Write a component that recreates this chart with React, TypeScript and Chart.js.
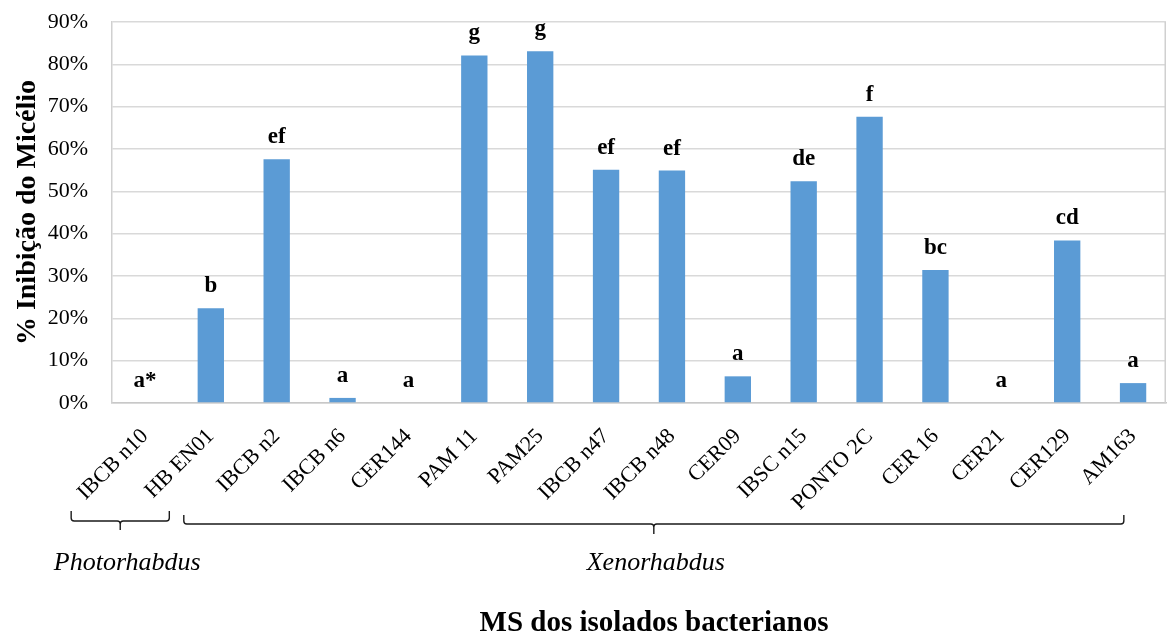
import React, { useEffect, useRef } from "react";
import { Chart, registerables } from "chart.js";

Chart.register(...registerables);

// Isolates tested, mycelial inhibition (%) and Tukey group letters
const isolates = [
  "IBCB n10", "HB EN01", "IBCB n2", "IBCB n6", "CER144", "PAM 11", "PAM25", "IBCB n47",
  "IBCB n48", "CER09", "IBSC n15", "PONTO 2C", "CER 16", "CER21", "CER129", "AM163",
];
const inhibition = [0, 22.4, 57.6, 1.2, 0, 82.1, 83.1, 55.1, 54.9, 6.3, 52.4, 67.6, 31.4, 0, 38.4, 4.7];
const letters = ["a*", "b", "ef", "a", "a", "g", "g", "ef", "ef", "a", "de", "f", "bc", "a", "cd", "a"];

const yMax = 90;
const yStep = 10;

// Genus groups, as ranges of isolate indices
const genera = ["Photorhabdus", "Xenorhabdus"];
const genusFirst = [0, 2];
const genusLast = [1, 15];

const SERIF = "'Liberation Serif', 'Times New Roman', serif";

// Brace extents relative to the first/last category centre, in category widths
const braceStyle = [
  { left: -1.12, right: -0.63, top: 511, line: 521, tip: 530, textDx: 7 },
  { left: -1.41, right: -0.14, top: 515, line: 524, tip: 534, textDx: 2 },
];

const overlay = {
  id: "overlay",
  afterDatasetsDraw(chart: any) {
    const ctx: CanvasRenderingContext2D = chart.ctx;
    const area = chart.chartArea;
    const xs = chart.scales.x;
    const meta = chart.getDatasetMeta(0);
    const catW = xs.getPixelForValue(1) - xs.getPixelForValue(0);

    ctx.save();
    // right edge of the plot box
    ctx.strokeStyle = "#d0d0d0";
    ctx.lineWidth = 1.5;
    ctx.beginPath();
    ctx.moveTo(area.right - 0.75, area.top);
    ctx.lineTo(area.right - 0.75, area.bottom);
    ctx.stroke();

    // group letters above each bar
    ctx.fillStyle = "#000";
    ctx.font = `bold 23px ${SERIF}`;
    ctx.textAlign = "center";
    ctx.textBaseline = "alphabetic";
    meta.data.forEach((bar: any, i: number) => {
      ctx.fillText(letters[i], bar.x, bar.y - 16);
    });

    // rotated isolate names
    ctx.font = `22px ${SERIF}`;
    ctx.textAlign = "right";
    isolates.forEach((name, i) => {
      const px = xs.getPixelForValue(i);
      ctx.save();
      ctx.translate(px + 4, area.bottom + 34);
      ctx.rotate(-Math.PI / 4);
      ctx.fillText(name, 0, 0);
      ctx.restore();
    });

    // braces and genus names
    ctx.strokeStyle = "#1a1a1a";
    ctx.lineWidth = 1.4;
    genera.forEach((g, k) => {
      const s = braceStyle[k];
      const x0 = xs.getPixelForValue(genusFirst[k]) + s.left * catW;
      const x1 = xs.getPixelForValue(genusLast[k]) + s.right * catW;
      const mid = (x0 + x1) / 2;
      const r = 3;
      ctx.beginPath();
      ctx.moveTo(x0, s.top);
      ctx.lineTo(x0, s.line - r);
      ctx.quadraticCurveTo(x0, s.line, x0 + r, s.line);
      ctx.lineTo(mid - r, s.line);
      ctx.quadraticCurveTo(mid, s.line, mid, s.line + r);
      ctx.lineTo(mid, s.tip);
      ctx.moveTo(mid, s.line + r);
      ctx.quadraticCurveTo(mid, s.line, mid + r, s.line);
      ctx.lineTo(x1 - r, s.line);
      ctx.quadraticCurveTo(x1, s.line, x1, s.line - r);
      ctx.lineTo(x1, s.top);
      ctx.stroke();

      ctx.font = `italic 26px ${SERIF}`;
      ctx.textAlign = "center";
      ctx.fillText(g, mid + s.textDx, 570);
    });

    // x-axis title
    ctx.font = `bold 29px ${SERIF}`;
    ctx.textAlign = "center";
    ctx.fillText("MS dos isolados bacterianos", 654, 631);
    ctx.restore();
  },
};

export default function App() {
  const ref = useRef<HTMLCanvasElement>(null);

  useEffect(() => {
    if (!ref.current) return;
    Chart.defaults.font.family = SERIF;
    const chart = new Chart(ref.current, {
      type: "bar",
      data: {
        labels: isolates,
        datasets: [
          {
            data: inhibition,
            backgroundColor: "#5b9bd5",
            borderWidth: 0,
            barPercentage: 0.4,
            categoryPercentage: 1,
          },
        ],
      },
      options: {
        responsive: false,
        animation: false,
        layout: { padding: { top: 22, right: 1, left: 0, bottom: 0 } },
        plugins: { legend: { display: false }, tooltip: { enabled: false } },
        scales: {
          x: {
            grid: { display: false, drawTicks: false },
            border: { display: true, color: "#c8c8c8", width: 1.5 },
            ticks: { display: false },
            afterFit: (s: any) => {
              s.height = 232;
            },
          },
          y: {
            min: 0,
            max: yMax,
            grid: { color: "#d9d9d9", lineWidth: 1.5, drawTicks: false },
            border: { display: true, color: "#d0d0d0", width: 1.5 },
            ticks: {
              stepSize: yStep,
              padding: 24,
              color: "#000",
              font: { size: 22, family: SERIF },
              callback: (v: any) => `${v}%`,
            },
            title: {
              display: true,
              text: "% Inibição do Micélio",
              color: "#000",
              font: { size: 28, weight: "bold", family: SERIF },
              padding: { top: 11, bottom: 0 },
            },
            afterFit: (s: any) => {
              s.width = 112;
              s.paddingTop = 0;
              s.paddingBottom = 0;
            },
          },
        },
      },
      plugins: [overlay],
    });
    return () => chart.destroy();
  }, []);

  return (
    <div style={{ position: "fixed", left: 0, top: 0, width: 1167, height: 635, background: "#fff" }}>
      <canvas ref={ref} width={1167} height={635} />
    </div>
  );
}
